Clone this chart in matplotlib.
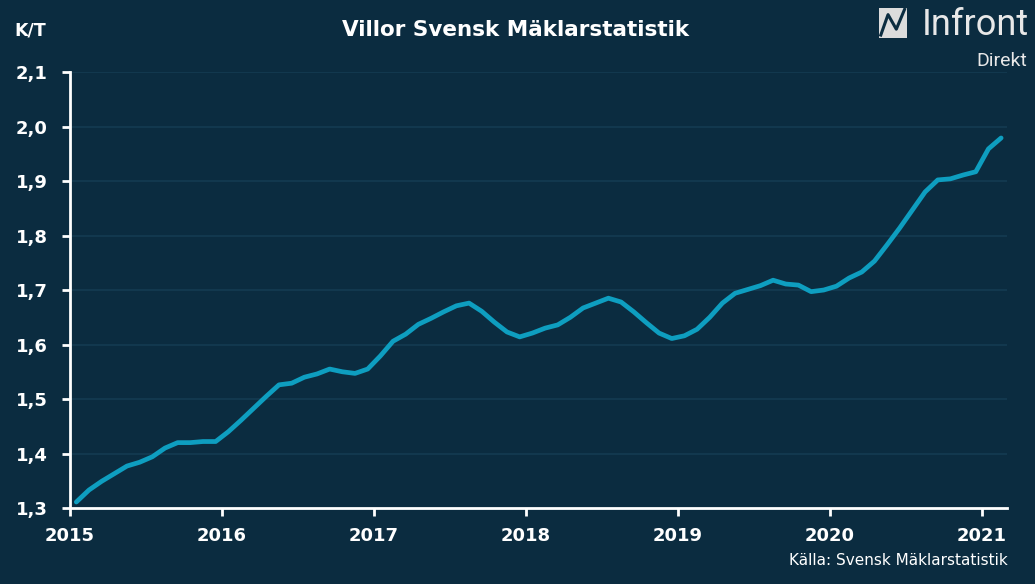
# -*- coding: utf-8 -*-
import numpy as np
import matplotlib
matplotlib.use('Agg')
from matplotlib import pyplot as plt
from matplotlib.patches import Rectangle

# monthly values, jan 2015 - feb 2021
start_year = 2015
values = [1.311, 1.333, 1.349, 1.363, 1.377, 1.384, 1.394, 1.410, 1.420, 1.420, 1.422, 1.422,
          1.440, 1.461, 1.483, 1.505, 1.526, 1.529, 1.540, 1.546, 1.555, 1.550, 1.547, 1.555,
          1.579, 1.606, 1.619, 1.637, 1.648, 1.660, 1.671, 1.676, 1.661, 1.641, 1.623, 1.614,
          1.621, 1.630, 1.636, 1.650, 1.667, 1.676, 1.685, 1.678, 1.660, 1.640, 1.621, 1.611,
          1.616, 1.628, 1.650, 1.676, 1.694, 1.701, 1.708, 1.718, 1.711, 1.709, 1.697, 1.700,
          1.707, 1.722, 1.733, 1.753, 1.783, 1.814, 1.847, 1.880, 1.902, 1.904, 1.911, 1.917,
          1.959, 1.979]
years = [2015, 2016, 2017, 2018, 2019, 2020, 2021]
yticks = [1.3, 1.4, 1.5, 1.6, 1.7, 1.8, 1.9, 2.0, 2.1]
ylabels = ['1,3', '1,4', '1,5', '1,6', '1,7', '1,8', '1,9', '2,0', '2,1']

bg = '#0b2c40'
linecol = '#0e9ec0'

x = start_year + (np.arange(len(values)) + 0.5) / 12.0

fig = plt.figure(figsize=(10.35, 5.84), dpi=100, facecolor=bg)
ax = fig.add_axes([0.0676, 0.1301, 0.9054, 0.7466], facecolor=bg)

ax.plot(x, values, color=linecol, lw=3.4, solid_capstyle='round', solid_joinstyle='round', zorder=3)

ax.set_xlim(2015, 2021.164)
ax.set_ylim(1.3, 2.1)
ax.set_yticks(yticks)
ax.set_yticklabels(ylabels)
ax.set_xticks(years)
ax.set_xticklabels([str(y) for y in years])

for yv in yticks[1:]:
	ax.axhline(yv, color='#143b52', lw=1.2, zorder=1)

for s in ['top', 'right']:
	ax.spines[s].set_visible(False)
for s in ['left', 'bottom']:
	ax.spines[s].set_color('white')
	ax.spines[s].set_linewidth(2)

ax.tick_params(axis='y', colors='white', length=6, width=2, pad=10, labelsize=13)
ax.tick_params(axis='x', colors='white', length=6, width=2, pad=8, labelsize=13)
for lab in ax.get_xticklabels() + ax.get_yticklabels():
	lab.set_fontweight('bold')

fig.text(0.0135, 0.948, 'K/T', color='white', fontsize=12.5, fontweight='bold', va='center')
fig.text(0.498, 0.948, 'Villor Svensk Mäklarstatistik', color='white', fontsize=15.5,
         fontweight='bold', ha='center', va='center')
fig.text(0.974, 0.04, 'Källa: Svensk Mäklarstatistik', color='white', fontsize=11,
         ha='right', va='center')

# logo
fig.text(0.994, 0.958, 'Infront', color='#e8e8e8', fontsize=26, family='Roboto',
         fontweight='normal', ha='right', va='center', fontstretch='condensed')
fig.text(0.992, 0.896, 'Direkt', color='#e8e8e8', fontsize=14, family='Roboto',
         ha='right', va='center')
fig.patches.append(Rectangle((0.849, 0.935), 0.027, 0.052, transform=fig.transFigure,
                             facecolor='#dcdcdc', edgecolor='none'))
fig.lines.append(plt.Line2D([0.851, 0.858, 0.866, 0.874], [0.940, 0.975, 0.950, 0.984],
                            transform=fig.transFigure, color=bg, lw=2.2))

fig.savefig('out.png', dpi=100, facecolor=bg)
